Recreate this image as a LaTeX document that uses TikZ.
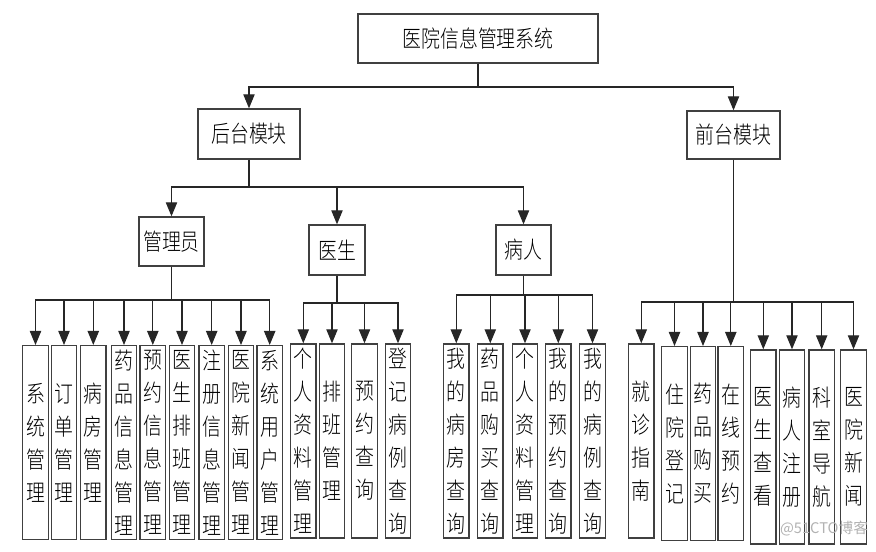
\documentclass[tikz,border=0pt]{standalone}
\usepackage{fontspec}
\usepackage{tikz}
\usetikzlibrary{arrows.meta}
\newfontfamily\cjk[FakeStretch=0.81]{Noto Sans CJK SC Light}
\newfontfamily\cjkmark{Noto Sans CJK SC}

\tikzset{
  box/.style={draw=black!75, line width=1pt, fill=white, inner sep=0pt,
    font=\cjk\fontsize{17.5pt}{24.75pt}\selectfont},
  leaf/.style={box, anchor=north, minimum width=19.2pt, minimum height=145.5pt,
    text width=14pt, align=center},
  link/.style={draw=black!85, line width=0.8pt},
  arr/.style={link, -{Triangle[length=10.5pt,width=8.5pt]}}
}

\begin{document}
\begin{tikzpicture}[x=0.75pt,y=0.75pt,yscale=-1,xscale=1]
    \useasboundingbox (0,0) rectangle (876,552);

    % Top level
    \node [box, minimum width=180pt, minimum height=36.75pt] (sys) at (478,38.5) {医院信息管理系统};
    \node [box, minimum width=76.5pt, minimum height=37.5pt] (back) at (249,134) {后台模块};
    \node [box, minimum width=69.75pt, minimum height=36pt] (front) at (733.5,135) {前台模块};

    % Back end roles
    \node [box, minimum width=48.75pt, minimum height=36.75pt] (adm) at (171.5,241.5) {管理员};
    \node [box, minimum width=42pt, minimum height=37.5pt] (doc) at (337,250) {医生};
    \node [box, minimum width=41.25pt, minimum height=37.5pt] (pat) at (523.5,250) {病人};

    % Administrator leaves
    \node [leaf] (sysm) at (35.5,345) {系\\统\\管\\理};
    \node [leaf] (order) at (64,345) {订\\单\\管\\理};
    \node [leaf] (ward) at (93.3,345) {病\\房\\管\\理};
    \node [leaf] (drug) at (124,345) {药\\品\\信\\息\\管\\理};
    \node [leaf] (appt) at (152.8,345) {预\\约\\信\\息\\管\\理};
    \node [leaf] (sched) at (182,345) {医\\生\\排\\班\\管\\理};
    \node [leaf] (reg) at (211.7,345) {注\\册\\信\\息\\管\\理};
    \node [leaf] (news) at (241,345) {医\\院\\新\\闻\\管\\理};
    \node [leaf] (user) at (269.7,345) {系\\统\\用\\户\\管\\理};

    % Doctor leaves
    \node [leaf] (dinfo) at (303.3,343.3) {个\\人\\资\\料\\管\\理};
    \node [leaf] (dsched) at (332,343.3) {排\\班\\管\\理};
    \node [leaf] (dappt) at (364.5,343.3) {预\\约\\查\\询};
    \node [leaf] (drec) at (398,343.3) {登\\记\\病\\例\\查\\询};

    % Patient leaves
    \node [leaf] (pward) at (456.3,343.3) {我\\的\\病\\房\\查\\询};
    \node [leaf] (pbuy) at (490.3,343.3) {药\\品\\购\\买\\查\\询};
    \node [leaf] (pinfo) at (525,343.3) {个\\人\\资\\料\\管\\理};
    \node [leaf] (pappt) at (558.3,343.3) {我\\的\\预\\约\\查\\询};
    \node [leaf] (prec) at (592.5,343.3) {我\\的\\病\\例\\查\\询};

    % Front end leaves
    \node [leaf] (guide) at (641.3,343.3) {就\\诊\\指\\南};
    \node [leaf] (admit) at (674.5,346) {住\\院\\登\\记};
    \node [leaf] (fbuy) at (703,346) {药\\品\\购\\买};
    \node [leaf] (book) at (730.8,346) {在\\线\\预\\约};
    \node [leaf] (dview) at (763.3,349.3) {医\\生\\查\\看};
    \node [leaf] (preg) at (792,349.3) {病\\人\\注\\册};
    \node [leaf] (dept) at (821.7,349.3) {科\\室\\导\\航};
    \node [leaf] (fnews) at (853.5,349.3) {医\\院\\新\\闻};

    % Junctions
    \coordinate (j0) at (sys.south |- 0,87);
    \coordinate (jb) at (back.south |- 0,187);
    \coordinate (jadm) at (adm.south |- 0,300);
    \coordinate (jdoc) at (doc.south |- 0,303);
    \coordinate (jpat) at (pat.south |- 0,295);
    \coordinate (jfr) at (front.south |- 0,302);

    % Connectors
    \draw [link] (sys) -- (j0);
    \draw [arr] (j0) -| (back);
    \draw [arr] (j0) -| (front);

    \draw [link] (back) -- (jb);
    \draw [arr] (jb) -| (adm);
    \draw [arr] (jb) -| (doc);
    \draw [arr] (jb) -| (pat);

    \draw [link] (adm) -- (jadm);
    \draw [arr] (jadm) -| (sysm);
    \draw [arr] (jadm) -| (order);
    \draw [arr] (jadm) -| (ward);
    \draw [arr] (jadm) -| (drug);
    \draw [arr] (jadm) -| (appt);
    \draw [arr] (jadm) -| (sched);
    \draw [arr] (jadm) -| (reg);
    \draw [arr] (jadm) -| (news);
    \draw [arr] (jadm) -| (user);

    \draw [link] (doc) -- (jdoc);
    \draw [arr] (jdoc) -| (dinfo);
    \draw [arr] (jdoc) -| (dsched);
    \draw [arr] (jdoc) -| (dappt);
    \draw [arr] (jdoc) -| (drec);

    \draw [link] (pat) -- (jpat);
    \draw [arr] (jpat) -| (pward);
    \draw [arr] (jpat) -| (pbuy);
    \draw [arr] (jpat) -| (pinfo);
    \draw [arr] (jpat) -| (pappt);
    \draw [arr] (jpat) -| (prec);

    \draw [link] (front) -- (jfr);
    \draw [arr] (jfr) -| (guide);
    \draw [arr] (jfr) -| (admit);
    \draw [arr] (jfr) -| (fbuy);
    \draw [arr] (jfr) -| (book);
    \draw [arr] (jfr) -| (dview);
    \draw [arr] (jfr) -| (preg);
    \draw [arr] (jfr) -| (dept);
    \draw [arr] (jfr) -| (fnews);

    % Text Node
    \node [text=black!30, font=\cjkmark\fontsize{11pt}{13pt}\selectfont, inner sep=0pt] (wm) at (824,529) {@51CTO博客};

\end{tikzpicture}
\end{document}
